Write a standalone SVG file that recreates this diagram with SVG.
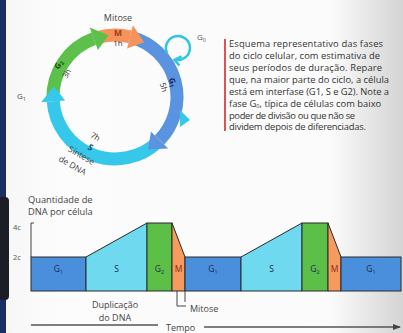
<svg xmlns="http://www.w3.org/2000/svg" width="403" height="333" viewBox="0 0 403 333">
<defs>
<linearGradient id="bg" x1="0" y1="0" x2="403" y2="0" gradientUnits="userSpaceOnUse">
<stop offset="0" stop-color="#f6f6f6"/><stop offset="0.15" stop-color="#fcfcfc"/><stop offset="0.82" stop-color="#fbfbfb"/><stop offset="1" stop-color="#d4d4d4"/>
</linearGradient>
<marker id="arr" markerWidth="8" markerHeight="6" refX="7" refY="3" orient="auto" markerUnits="userSpaceOnUse"><path d="M0,0 L8,3 L0,6 Z" fill="#444"/></marker>
<style>
text{font-family:"Open Sans","Noto Sans",sans-serif;fill:#3a3a3a}
.ring{fill:none;stroke-width:13;stroke-linecap:butt}
.lbl{font-size:9px}
.cap{font-size:9.4px;fill:#333}
.bar{stroke:#2a2a2a;stroke-width:1}
.bt{font-size:8.5px;fill:#1d2b4f;text-anchor:middle}
.sub{font-size:5.5px}
.ax{stroke:#444;stroke-width:1;fill:none}
</style>
</defs>
<rect width="403" height="333" fill="url(#bg)"/>
<rect x="0" y="0" width="6" height="333" fill="#1b2e63"/>
<rect x="-4" y="197" width="13" height="103" rx="4" fill="#1b1e27"/>

<g id="cycle">
<g id="ring-bodies">
<path class="ring" stroke="#f6935b" d="M97.9,37.4 A62,62 0 0 1 130,36.8"/>
<path class="ring" stroke="#5a93e0" d="M132.1,37.4 A62,62 0 0 1 159.6,140.1"/>
<path class="ring" stroke="#35c8eb" d="M158.1,141.6 A62,62 0 0 1 53.2,101.3"/>
<path class="ring" stroke="#5cc04a" d="M53,99.2 A62,62 0 0 1 93.8,38.7"/>
</g>
<g id="ring-heads">
<polygon fill="#f6935b" points="127.1,48.5 132.9,25.2 144.1,42.3"/>
<polygon fill="#5a93e0" points="151,131.7 168.2,148.4 147.9,149.6"/>
<polygon fill="#35c8eb" points="65.1,100.5 41.2,102.2 53.9,86.2"/>
<polygon fill="#5cc04a" points="97.9,50 89.7,27.5 108.5,35.3"/>
<polygon fill="#35c8eb" points="180,110 180,127 190,120"/>
</g>
<g id="g0-loop">
<path d="M167.1,53.1 A12,12 0 1 1 174.9,59.6" fill="none" stroke="#2ec4e6" stroke-width="2.5"/>
<path d="M181.5,56.5 L174.5,59.8 L179.5,65.5" fill="none" stroke="#2ec4e6" stroke-width="2.5"/>
<text x="197" y="40" style="font-size:8px;fill:#555">G<tspan class="sub" dy="1.5">0</tspan></text>
</g>
<text x="118" y="21" class="lbl" text-anchor="middle" style="fill:#444">Mitose</text>
<text x="118" y="36" text-anchor="middle" style="font-size:8.5px;font-weight:bold;fill:#9a3d18">M</text>
<text x="118" y="46" text-anchor="middle" style="font-size:8px;fill:#333">1h</text>
<text x="17" y="99" style="font-size:8px;fill:#444">G<tspan class="sub" dy="1.5">1</tspan></text>
<text transform="translate(61,66) rotate(-60)" text-anchor="middle" style="font-size:8px;fill:#1e4d17;font-weight:bold">G<tspan class="sub" dy="1.5">2</tspan></text>
<text transform="translate(69,75) rotate(-60)" text-anchor="middle" style="font-size:8px;fill:#333">3h</text>
<text transform="translate(170,83) rotate(75)" text-anchor="middle" style="font-size:8px;fill:#14244d;font-weight:bold">G<tspan class="sub" dy="1.5">1</tspan></text>
<text transform="translate(161,88) rotate(75)" text-anchor="middle" style="font-size:8px;fill:#333">5h</text>
<text transform="translate(94,139) rotate(30)" text-anchor="middle" style="font-size:8px;fill:#333">7h</text>
<text transform="translate(89,150) rotate(30)" text-anchor="middle" style="font-size:8.5px;fill:#14466a;font-weight:bold">S</text>
<text transform="translate(80,158) rotate(30)" text-anchor="middle" style="font-size:8.5px;fill:#444">Síntese</text>
<text transform="translate(71,168) rotate(30)" text-anchor="middle" style="font-size:8.5px;fill:#444">de DNA</text>
</g>

<g id="caption">
<line x1="225" y1="39" x2="225" y2="131" stroke="#d9262c" stroke-width="1.6"/>
<text class="cap" x="229" y="47" textLength="154" lengthAdjust="spacing">Esquema representativo das fases</text>
<text class="cap" x="229" y="58.9" textLength="151" lengthAdjust="spacing">do ciclo celular, com estimativa de</text>
<text class="cap" x="229" y="70.8" textLength="153" lengthAdjust="spacing">seus períodos de duração. Repare</text>
<text class="cap" x="229" y="82.7" textLength="160" lengthAdjust="spacing">que, na maior parte do ciclo, a célula</text>
<text class="cap" x="229" y="94.6" textLength="160" lengthAdjust="spacing">está em interfase (G1, S e G2). Note a</text>
<text class="cap" x="229" y="106.5">fase G<tspan style="font-size:5.5px" dy="1">0</tspan><tspan dy="-1">, típica de células com baixo</tspan></text>
<text class="cap" x="229" y="118.6" textLength="126" lengthAdjust="spacing">poder de divisão ou que não se</text>
<text class="cap" x="229" y="130.4" textLength="137" lengthAdjust="spacing">dividem depois de diferenciadas.</text>
</g>

<g id="chart">
<text x="28" y="203" style="font-size:9.3px;fill:#444">Quantidade de</text>
<text x="28" y="215" style="font-size:9.3px;fill:#444">DNA por célula</text>
<text x="13" y="230" style="font-size:7.5px;fill:#555">4c</text>
<text x="13" y="260" style="font-size:7.5px;fill:#555">2c</text>
<path class="ax" d="M31,257 V223 H34"/>
<g id="bar-g1a"><rect class="bar" x="31" y="257" width="55" height="34" fill="#4a8fdc"/><text class="bt" x="58.5" y="272">G<tspan class="sub" dy="1.5">1</tspan></text></g>
<g id="bar-sa"><polygon class="bar" points="86,257 147,223 147,291 86,291" fill="#6fd9ef"/><text class="bt" x="116.5" y="272">S</text></g>
<g id="bar-g2a"><rect class="bar" x="147" y="223" width="25" height="68" fill="#5bbf48"/><text class="bt" x="159.5" y="272">G<tspan class="sub" dy="1.5">2</tspan></text></g>
<g id="bar-ma"><polygon class="bar" points="172,223 185,257 185,291 172,291" fill="#f79a5e"/><text class="bt" x="178.5" y="272" style="fill:#8b2a14">M</text></g>
<g id="bar-g1b"><rect class="bar" x="185" y="257" width="56" height="34" fill="#4a8fdc"/><text class="bt" x="213" y="272">G<tspan class="sub" dy="1.5">1</tspan></text></g>
<g id="bar-sb"><polygon class="bar" points="241,257 302,223 302,291 241,291" fill="#6fd9ef"/><text class="bt" x="271.5" y="272">S</text></g>
<g id="bar-g2b"><rect class="bar" x="302" y="223" width="26" height="68" fill="#5bbf48"/><text class="bt" x="315" y="272">G<tspan class="sub" dy="1.5">2</tspan></text></g>
<g id="bar-mb"><polygon class="bar" points="328,223 341,257 341,291 328,291" fill="#f79a5e"/><text class="bt" x="334.5" y="272" style="fill:#8b2a14">M</text></g>
<g id="bar-g1c"><rect class="bar" x="341" y="257" width="60" height="34" fill="#4a8fdc"/><text class="bt" x="371" y="272">G<tspan class="sub" dy="1.5">1</tspan></text></g>
<text x="115" y="307.5" text-anchor="middle" style="font-size:9px;fill:#444">Duplicação</text>
<text x="115" y="320.5" text-anchor="middle" style="font-size:9px;fill:#444">do DNA</text>
<path class="ax" d="M177,291 V306 H186 M185,291 V302"/>
<text x="190" y="312" style="font-size:9px;fill:#444">Mitose</text>
<g id="connectors">
<line x1="31" y1="325" x2="158" y2="325" stroke="#555" stroke-width="1.3"/>
<line x1="204" y1="327" x2="400" y2="327" stroke="#555" stroke-width="1.3" marker-end="url(#arr)"/>
</g>
<text x="166" y="331" style="font-size:9px;fill:#444">Tempo</text>
</g>
</svg>
